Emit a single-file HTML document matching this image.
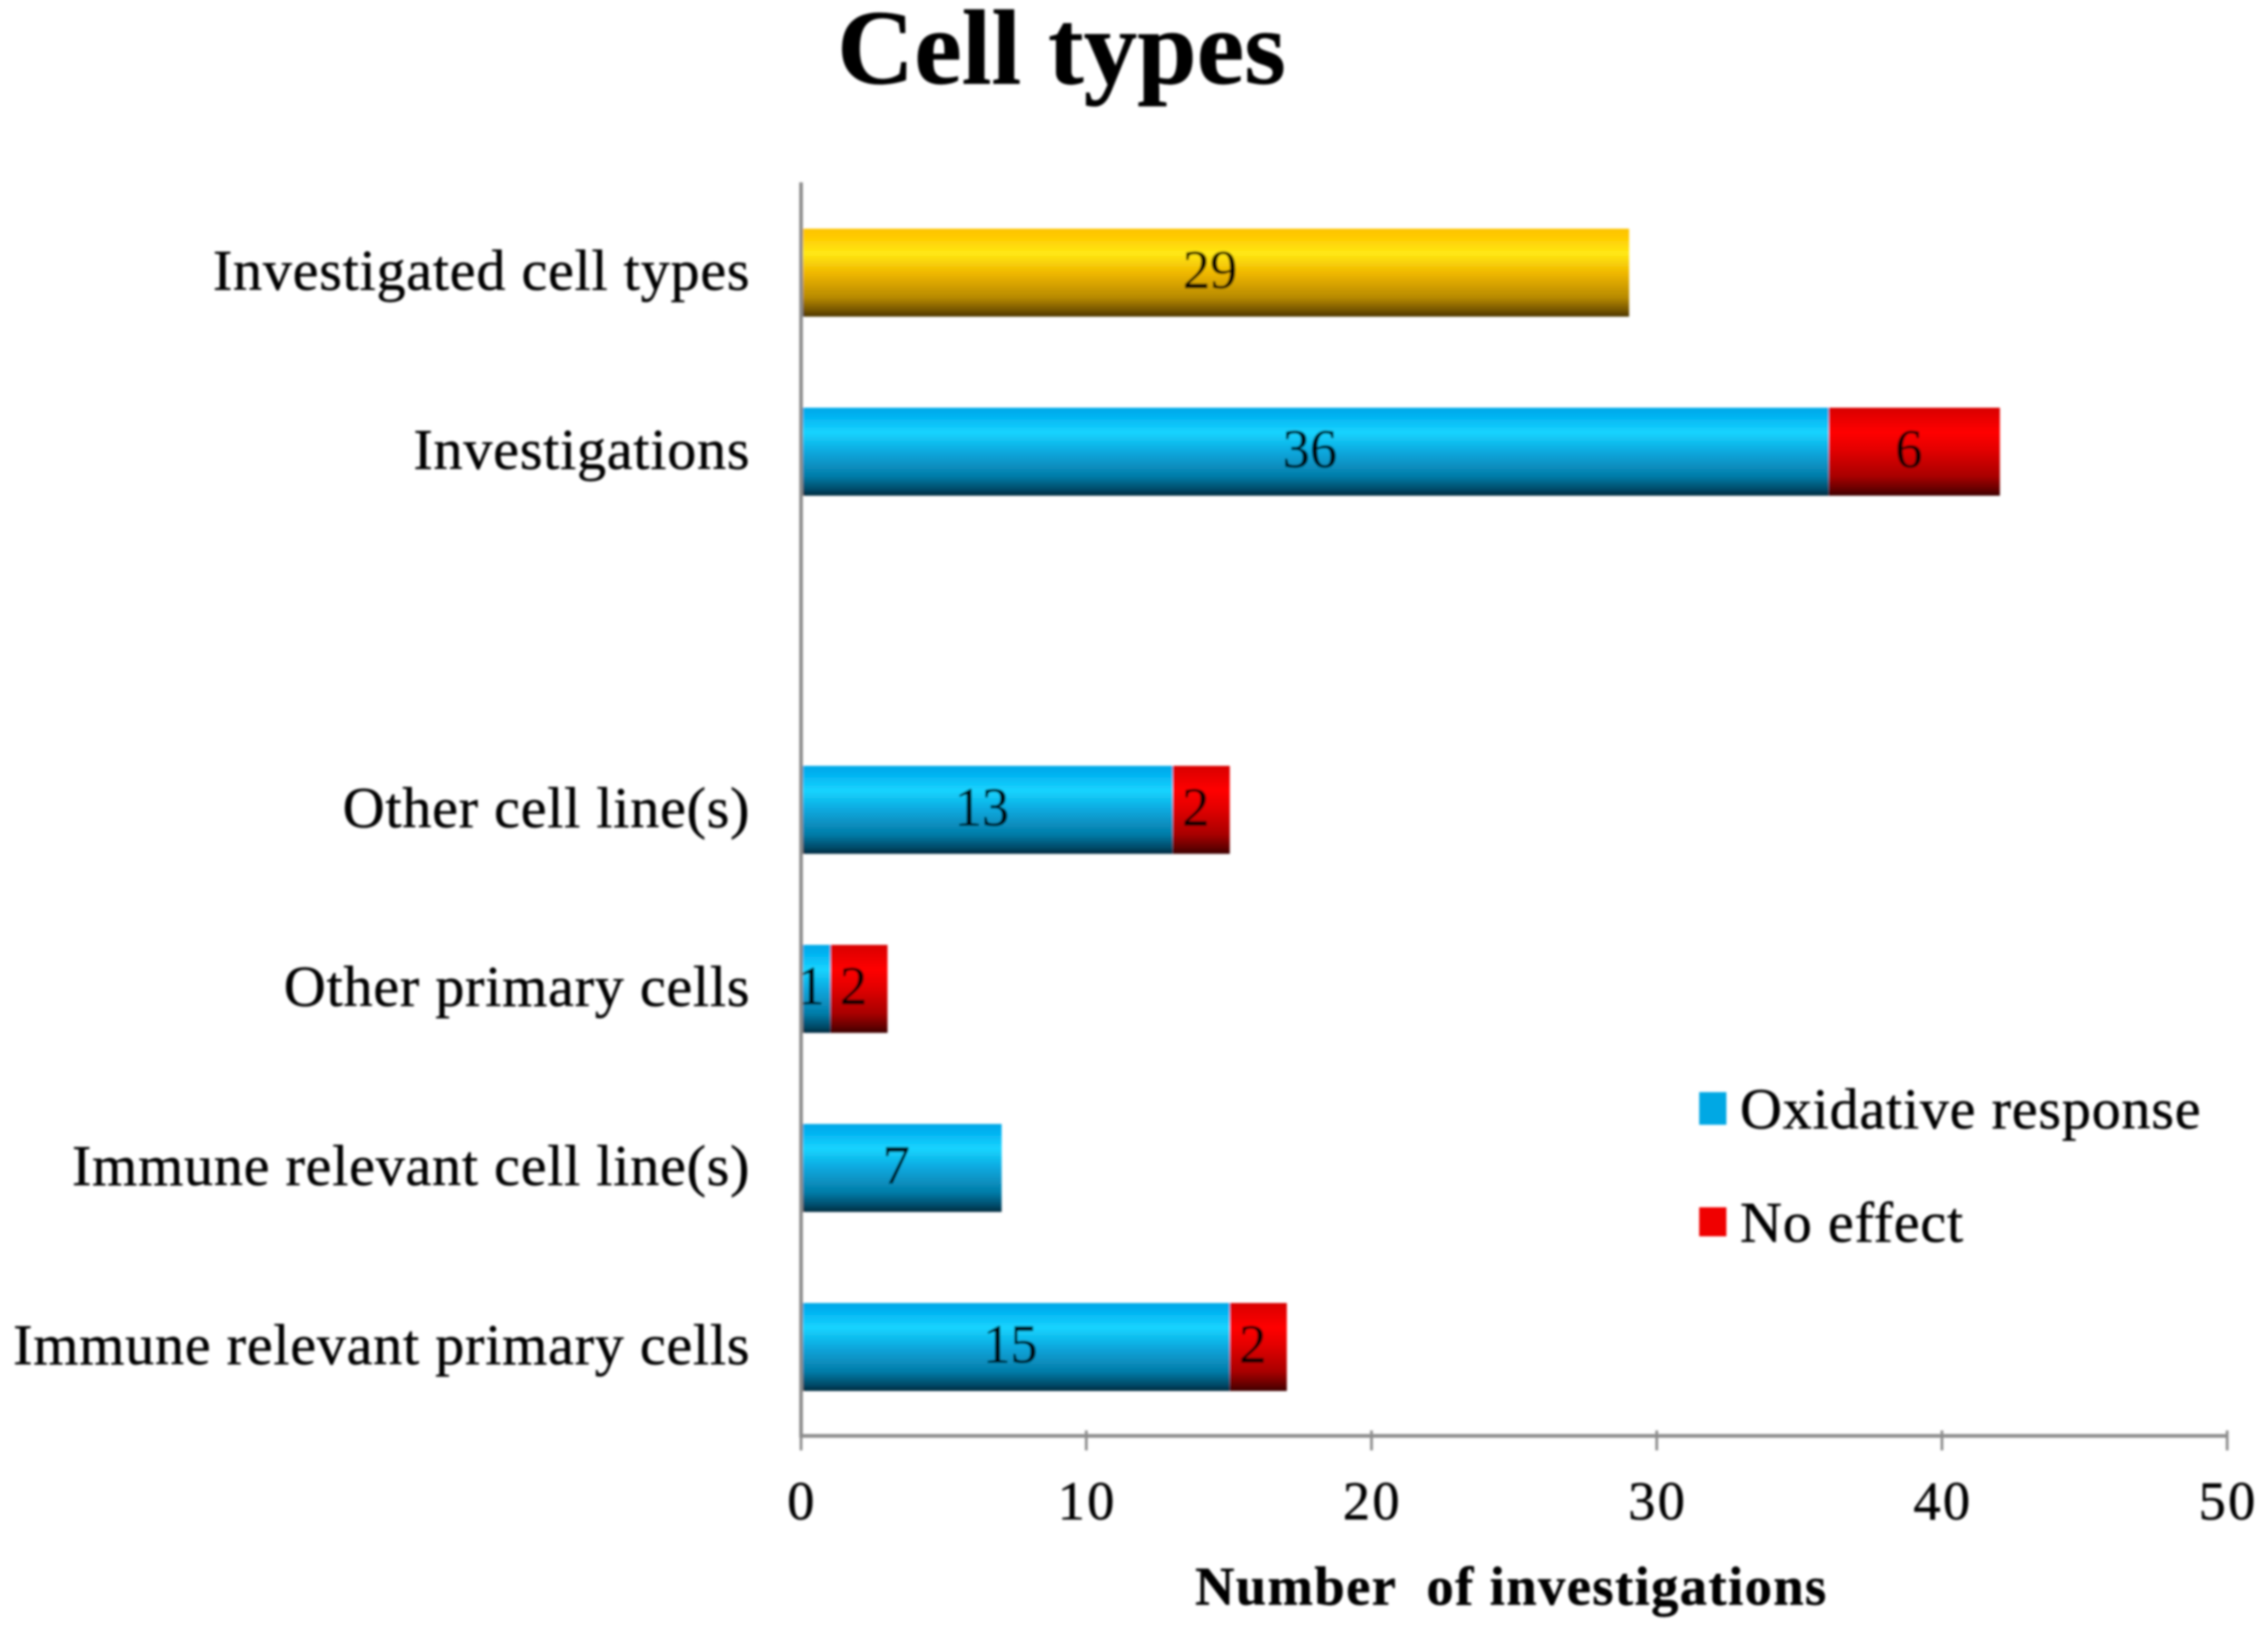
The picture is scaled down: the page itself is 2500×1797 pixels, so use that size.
<!DOCTYPE html>
<html lang="en">
<head>
<meta charset="utf-8">
<title>Cell types</title>
<style>
html,body{margin:0;padding:0;background:#fff}
svg{display:block}
text{font-family:"Liberation Serif","Times New Roman",serif;fill:#000;stroke:#000;stroke-width:0.5px;white-space:pre}
</style>
</head>
<body>
<svg id="chart" xmlns="http://www.w3.org/2000/svg" width="2500" height="1797" viewBox="0 0 2500 1797">
<defs>
<linearGradient id="grad-blue" x1="0" y1="0" x2="0" y2="1">
<stop offset="0" stop-color="#00a8e6"/><stop offset="0.08" stop-color="#00b0f0"/><stop offset="0.28" stop-color="#18d4ff"/><stop offset="0.5" stop-color="#08a8de"/><stop offset="0.78" stop-color="#067ca8"/><stop offset="0.93" stop-color="#034a68"/><stop offset="1" stop-color="#012a3e"/>
</linearGradient>
<linearGradient id="grad-red" x1="0" y1="0" x2="0" y2="1">
<stop offset="0" stop-color="#d80000"/><stop offset="0.28" stop-color="#ff0000"/><stop offset="0.5" stop-color="#e00000"/><stop offset="0.78" stop-color="#a80000"/><stop offset="0.93" stop-color="#640000"/><stop offset="1" stop-color="#3c0000"/>
</linearGradient>
<linearGradient id="grad-gold" x1="0" y1="0" x2="0" y2="1">
<stop offset="0" stop-color="#fcc400"/><stop offset="0.08" stop-color="#ffc800"/><stop offset="0.28" stop-color="#ffe814"/><stop offset="0.5" stop-color="#f0b800"/><stop offset="0.78" stop-color="#b88a00"/><stop offset="0.93" stop-color="#745400"/><stop offset="1" stop-color="#4c3600"/>
</linearGradient>
<filter id="soft" x="-2%" y="-2%" width="104%" height="104%"><feGaussianBlur stdDeviation="1.2"/></filter>
</defs>
<g id="root" filter="url(#soft)">
<text x="1170" y="92" text-anchor="middle" font-size="118" font-weight="700">Cell types</text>
<text x="1666" y="1769" text-anchor="middle" font-size="60" font-weight="700" letter-spacing="1.6">Number  of investigations</text>
<g id="bars"></g>
<g id="axes"></g>
<g>
<rect x="1873" y="1204" width="30" height="36" fill="#06a8e4"/>
<text x="1918" y="1244" font-size="64" letter-spacing="0.9">Oxidative response</text>
<rect x="1873" y="1331" width="30" height="32" fill="#f00000"/>
<text x="1918" y="1369" font-size="64" letter-spacing="0.9">No effect</text>
</g>
</g>
</svg>
<script>
var categories = ["Immune relevant primary cells", "Immune relevant cell line(s)", "Other primary cells", "Other cell line(s)", "", "Investigations", "Investigated cell types"];
var oxidativeResponse = [15, 7, 1, 13, 0, 36, 0];
var noEffect = [2, 0, 2, 2, 0, 6, 0];
var investigatedCellTypes = [0, 0, 0, 0, 0, 0, 29];
var xTicks = [0, 10, 20, 30, 40, 50];

var SVG_NS = "http://www.w3.org/2000/svg";
var plotLeft = 883, plotRight = 2455, plotTop = 201, plotBottom = 1583;
var xMax = 50;
var band = 197.4;
var barHeight = 97;
var barBaseY = 1583.7;

function xScale(v) { return plotLeft + (v / xMax) * (plotRight - plotLeft); }
function yCenter(i) { return barBaseY - band * (i + 0.5); }
function make(tag, attrs, parent) {
  var el = document.createElementNS(SVG_NS, tag);
  for (var k in attrs) { el.setAttribute(k, attrs[k]); }
  parent.appendChild(el);
  return el;
}

var barsGroup = document.getElementById("bars");
var axesGroup = document.getElementById("axes");

function drawSegment(i, start, value, fill, slug) {
  if (!value) { return; }
  var x0 = xScale(start) + 1, x1 = xScale(start + value) + 1, cy = yCenter(i);
  var rect = make("rect", { x: x0, y: cy - barHeight / 2, width: x1 - x0, height: barHeight, fill: fill }, barsGroup);
  
  
  var label = make("text", { x: (x0 + x1) / 2 - 6, y: cy + 17, "text-anchor": "middle", "font-size": 60 }, barsGroup);
  
  
  label.textContent = String(value);
}

categories.forEach(function (name, i) {
  drawSegment(i, 0, oxidativeResponse[i], "url(#grad-blue)", "oxidative-response");
  drawSegment(i, oxidativeResponse[i], noEffect[i], "url(#grad-red)", "no-effect");
  drawSegment(i, 0, investigatedCellTypes[i], "url(#grad-gold)", "investigated-cell-types");
  if (name) {
    var catLabel = make("text", { x: 827, y: yCenter(i) + 19, "text-anchor": "end", "font-size": 64, "letter-spacing": 0.87 }, axesGroup);
    
    
    catLabel.textContent = name;
  }
});

var yAxis = make("line", { x1: plotLeft, x2: plotLeft, y1: plotTop, y2: plotBottom + 2, stroke: "#8c8c8c", "stroke-width": 4 }, axesGroup);


var xAxis = make("line", { x1: plotLeft, x2: plotRight, y1: plotBottom, y2: plotBottom, stroke: "#8c8c8c", "stroke-width": 4 }, axesGroup);



xTicks.forEach(function (t) {
  var tx = xScale(t);
  var tick = make("line", { x1: tx, x2: tx, y1: plotBottom - 6, y2: plotBottom + 16, stroke: "#8c8c8c", "stroke-width": 3 }, axesGroup);
  
  
  var tl = make("text", { x: tx + 1, y: 1675, "text-anchor": "middle", "font-size": 60, "letter-spacing": 2.5 }, axesGroup);
  
  
  tl.textContent = String(t);
});
</script>
</body>
</html>
